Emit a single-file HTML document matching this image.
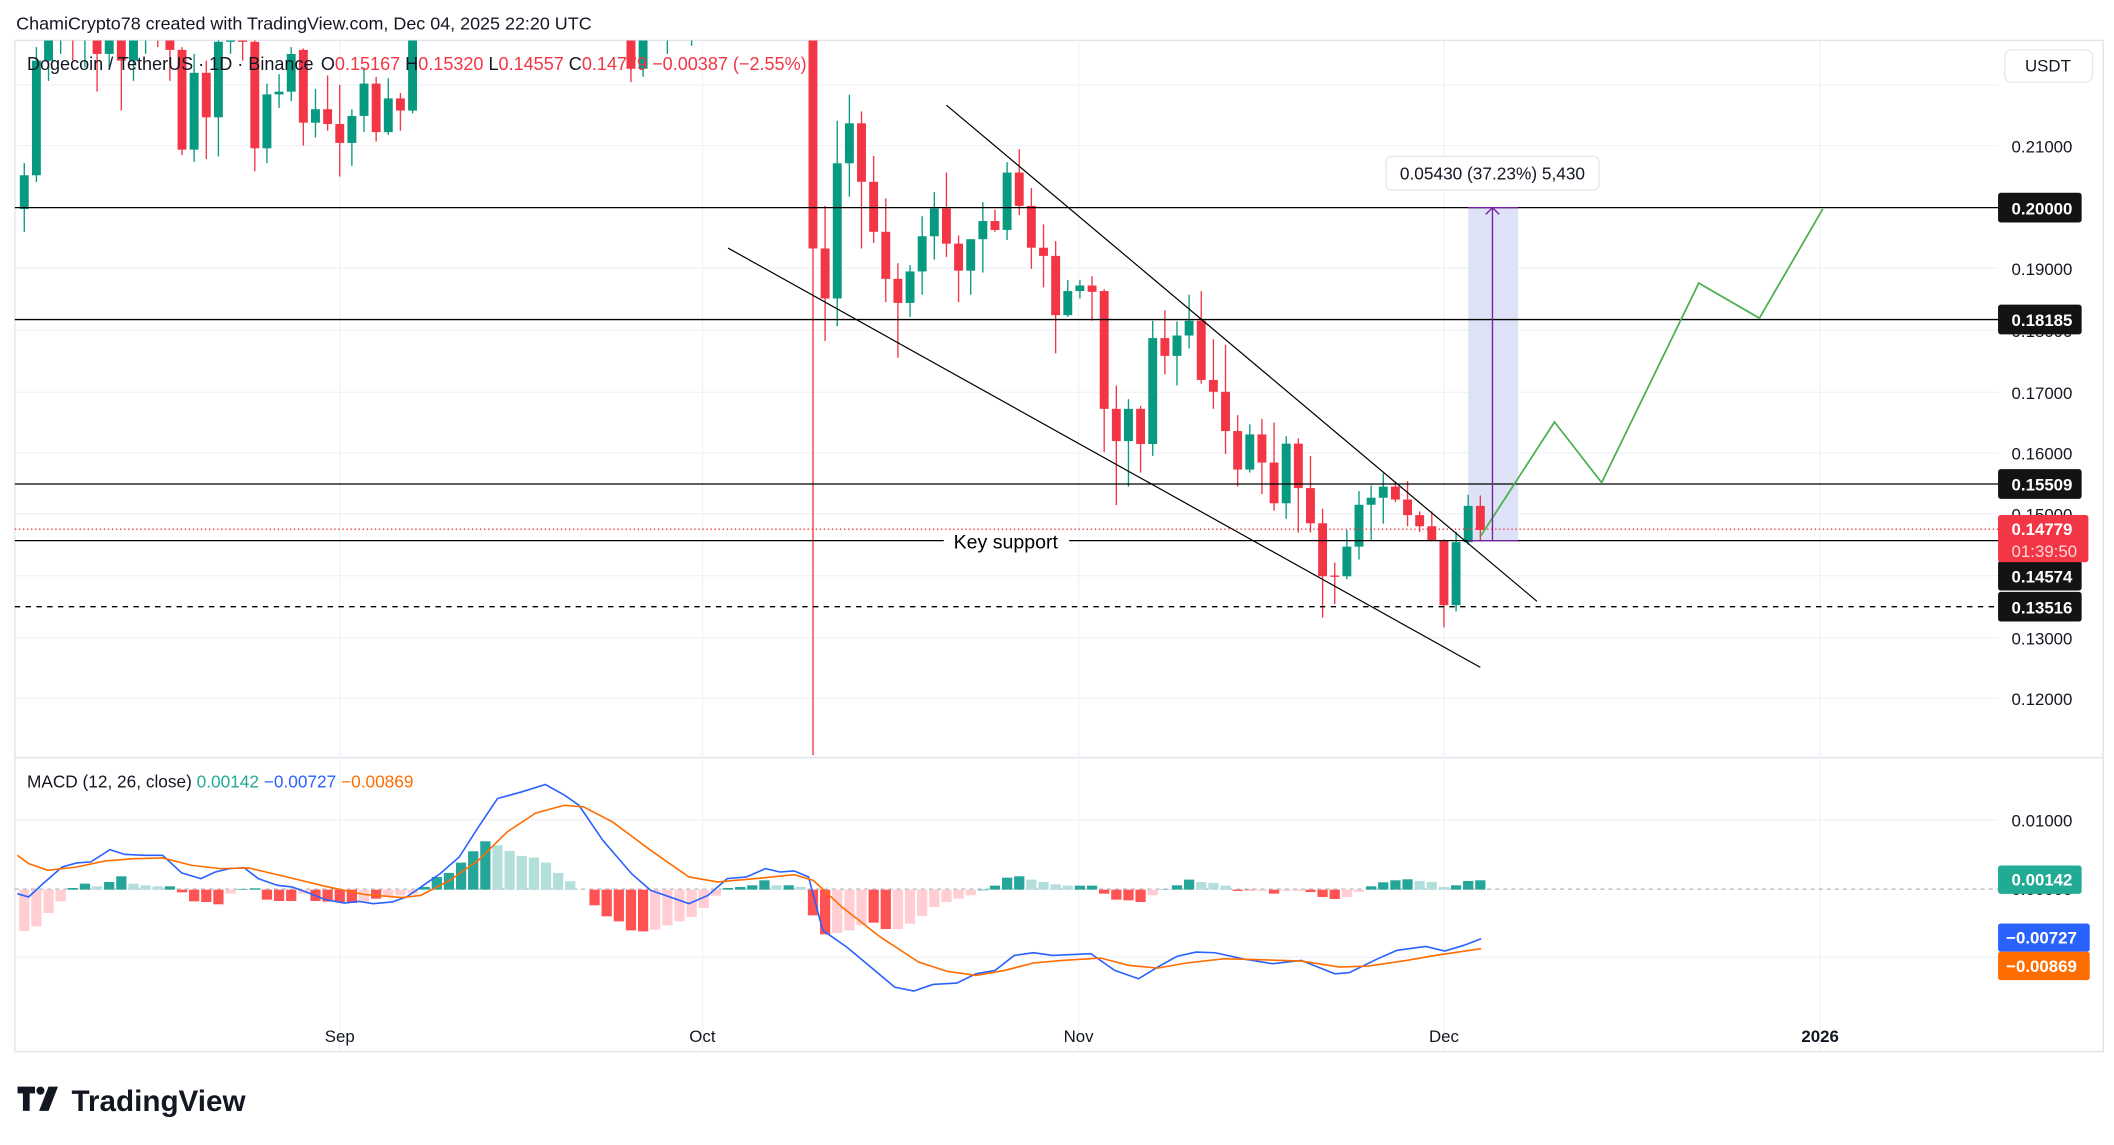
<!DOCTYPE html>
<html><head><meta charset="utf-8">
<style>
html,body{margin:0;padding:0;background:#fff;}
svg{display:block;}
text{font-family:"Liberation Sans","DejaVu Sans",sans-serif;}
</style></head>
<body>
<svg id="s" width="2114" height="1145" viewBox="0 0 1568 849.3" preserveAspectRatio="none" xmlns="http://www.w3.org/2000/svg">
<rect width="1568" height="850" fill="#fff"/>
<text x="12" y="22" font-size="13.3" fill="#131722">ChamiCrypto78 created with TradingView.com, Dec 04, 2025 22:20 UTC</text>
<rect x="11" y="30" width="1549" height="750" fill="none" stroke="#e0e3eb" stroke-width="1"/>
<line x1="11" y1="562" x2="1560" y2="562" stroke="#e0e3eb"/>
<g id="grid" stroke="#f0f3fa" stroke-width="1">
<line x1="11" x2="1482" y1="63" y2="63"/><line x1="11" x2="1482" y1="108" y2="108"/><line x1="11" x2="1482" y1="199" y2="199"/><line x1="11" x2="1482" y1="245" y2="245"/><line x1="11" x2="1482" y1="291" y2="291"/><line x1="11" x2="1482" y1="336" y2="336"/><line x1="11" x2="1482" y1="381" y2="381"/><line x1="11" x2="1482" y1="427" y2="427"/><line x1="11" x2="1482" y1="473" y2="473"/><line x1="11" x2="1482" y1="518" y2="518"/>
<line x1="11" x2="1482" y1="608" y2="608"/><line x1="11" x2="1482" y1="710" y2="710"/>
<line x1="252" x2="252" y1="30" y2="780"/><line x1="521" x2="521" y1="30" y2="780"/><line x1="800" x2="800" y1="30" y2="780"/><line x1="1071" x2="1071" y1="30" y2="780"/><line x1="1350" x2="1350" y1="30" y2="780"/>
</g>
<defs><clipPath id="pc"><rect x="11" y="30" width="1471" height="532"/></clipPath>
<clipPath id="mc"><rect x="11" y="563" width="1471" height="217"/></clipPath></defs>
<rect x="1089" y="154" width="37" height="247" fill="#dde2f6"/>
<g id="candles" clip-path="url(#pc)"></g>
<line x1="11" x2="1483" y1="154" y2="154" stroke="#000" stroke-width="1"/>
<line x1="11" x2="1483" y1="237" y2="237" stroke="#000" stroke-width="1"/>
<line x1="11" x2="1483" y1="359" y2="359" stroke="#000" stroke-width="1"/>
<line x1="11" x2="700" y1="401" y2="401" stroke="#000" stroke-width="1"/>
<line x1="793" x2="1483" y1="401" y2="401" stroke="#000" stroke-width="1"/>
<text x="746" y="407" font-size="14.5" text-anchor="middle" fill="#000">Key support</text>
<line x1="11" x2="1483" y1="450" y2="450" stroke="#000" stroke-width="1" stroke-dasharray="4,4"/>
<line x1="11" x2="1483" y1="392.5" y2="392.5" stroke="#f23645" stroke-width="1" stroke-dasharray="1,2"/>
<line x1="702" y1="78" x2="1140" y2="446" stroke="#000" stroke-width="0.9"/>
<line x1="540" y1="184" x2="1098" y2="495" stroke="#000" stroke-width="0.9"/>
<polyline points="1098,398 1153,313 1188,358 1260,210 1305,236 1352,155" fill="none" stroke="#4caf50" stroke-width="1.3"/>
<line x1="1089" x2="1126" y1="154" y2="154" stroke="#7b1fa2" stroke-width="1"/>
<line x1="1089" x2="1126" y1="401" y2="401" stroke="#7b1fa2" stroke-width="1"/>
<line x1="1107" x2="1107" y1="401" y2="154" stroke="#7b1fa2" stroke-width="1"/>
<polyline points="1102,159 1107,154 1112,159" fill="none" stroke="#7b1fa2"/>
<rect x="1028" y="116" width="158" height="25" rx="4" fill="#fff" stroke="#e6e8ee"/>
<text x="1107" y="133" font-size="12.8" text-anchor="middle" fill="#131722">0.05430 (37.23%) 5,430</text>
<g font-size="13.4">
<text x="20" y="52" fill="#131722">Dogecoin / TetherUS · 1D · Binance</text>
<text x="238" y="52" fill="#131722">O<tspan fill="#f23645">0.15167</tspan>  H<tspan fill="#f23645">0.15320</tspan>  L<tspan fill="#f23645">0.14557</tspan>  C<tspan fill="#f23645">0.14779</tspan>  <tspan fill="#f23645">−0.00387 (−2.55%)</tspan></text>
</g>
<rect x="1487" y="37" width="65" height="24" rx="5" fill="#fff" stroke="#e6e8ee"/>
<text x="1519" y="53" font-size="12.5" text-anchor="middle" fill="#131722">USDT</text>
<g font-size="12.5" fill="#131722">
<text x="1492" y="113">0.21000</text><text x="1492" y="204">0.19000</text><text x="1492" y="250">0.18000</text><text x="1492" y="296">0.17000</text><text x="1492" y="341">0.16000</text><text x="1492" y="386">0.15000</text><text x="1492" y="478">0.13000</text><text x="1492" y="523">0.12000</text>
<text x="1492" y="613">0.01000</text><text x="1492" y="664">0.00000</text>
</g>
<g font-size="12.5" font-weight="bold" fill="#fff">
<rect x="1482" y="143" width="62" height="22" rx="2" fill="#131313"/><text x="1492" y="159">0.20000</text>
<rect x="1482" y="226" width="62" height="22" rx="2" fill="#131313"/><text x="1492" y="242">0.18185</text>
<rect x="1482" y="348" width="62" height="22" rx="2" fill="#131313"/><text x="1492" y="364">0.15509</text>
<rect x="1482" y="416" width="62" height="22" rx="2" fill="#131313"/><text x="1492" y="432">0.14574</text>
<rect x="1482" y="439" width="62" height="22" rx="2" fill="#131313"/><text x="1492" y="455">0.13516</text>
<rect x="1482" y="382" width="67" height="35" rx="2" fill="#f23645"/><text x="1492" y="397">0.14779</text><text x="1492" y="413" font-weight="normal" fill="#ffd5d8">01:39:50</text>
<rect x="1482" y="642" width="62" height="21" rx="2" fill="#22ab94"/><text x="1492" y="657">0.00142</text>
<rect x="1482" y="685" width="68" height="21" rx="2" fill="#2962ff"/><text x="1488" y="700">−0.00727</text>
<rect x="1482" y="706" width="68" height="21" rx="2" fill="#ff6d00"/><text x="1488" y="721">−0.00869</text>
</g>
<line x1="11" x2="1482" y1="659.5" y2="659.5" stroke="#b2b5be" stroke-dasharray="3,3"/>
<g id="macd" clip-path="url(#mc)"></g>
<text x="20" y="584" font-size="12.8" fill="#131722">MACD (12, 26, close) <tspan fill="#22ab94">0.00142</tspan> <tspan fill="#2962ff">−0.00727</tspan> <tspan fill="#ff6d00">−0.00869</tspan></text>
<g font-size="12.5" fill="#131722" text-anchor="middle">
<text x="252" y="773">Sep</text><text x="521" y="773">Oct</text><text x="800" y="773">Nov</text><text x="1071" y="773">Dec</text><text x="1350" y="773" font-weight="bold">2026</text>
</g>
<path d="M13 806h13v5h-4v13h-5v-13h-4z" fill="#131722"/>
<circle cx="30" cy="809" r="3" fill="#131722"/>
<path d="M36 806h7l-7 18h-7z" fill="#131722"/>
<text x="53" y="824" font-size="22" font-weight="bold" fill="#131722">TradingView</text>
</svg>
<script>
var NS="http://www.w3.org/2000/svg",G="#089981",R="#f23645";
function el(p,t,a){var e=document.createElementNS(NS,t);for(var k in a)e.setAttribute(k,a[k]);p.appendChild(e);return e;}
var cg=document.getElementById("candles");
function candle(x,o,c,h,l){var col=c<=o?G:R;var hi=Math.min(h,o,c),lo=Math.max(l,o,c);
el(cg,"line",{x1:x,x2:x,y1:hi,y2:lo,stroke:col,"stroke-width":1});
el(cg,"rect",{x:x-3.3,y:Math.min(o,c),width:6.6,height:Math.max(1,Math.abs(o-c)),fill:col});}
var s1=[[155,130,121,172],[130,45,35,135],[45,25,10,60],[25,10,0,40],[10,30,0,45],[30,20,10,50],[20,40,10,68],[40,28,15,50],[28,45,10,82],[45,25,10,60],[25,15,5,40],[15,20,5,35],[20,37,5,60],[37,111,35,115],[111,54,40,120],[54,87,45,118],[87,31,20,116],[31,15,5,40],[15,31,5,45],[31,110,25,127],[110,70,62,121],[70,68,55,80],[68,40,35,75],[37,91,36,108],[91,81,66,102],[81,92,56,97],[92,106,63,131],[106,86,81,123],[86,62,50,98],[62,98,57,105],[98,73,58,100],[73,82,69,97],[82,10,0,84]];
for(var i=0;i<s1.length;i++){var d=s1[i];candle(252+9*(i-26),d[0],d[1],d[2],d[3]);}
var mid={24:[10,51,0,61],25:[51,20,10,57],26:[20,5,0,28],27:[5,-5,-10,40],29:[-5,-10,-20,34]};
for(var d2=7;d2<=38;d2++){var v=mid[d2]||[-20+(d2%3)*5,-10-(d2%4)*4,-40,-5+(d2%5)*4];candle(252+9*d2,v[0],v[1],v[2],v[3]);}
function Z(v){return 59.3+v/3.64;}
var s2=[[-143,455,-200,1823],[455,590,340,705],[590,225,110,665],[225,117,40,315],[117,275,85,455],[275,410,205,440],[410,537,320,600],[537,602,495,750],[602,517,500,640],[517,422,368,580],[422,347,303,485],[347,442,250,478],[442,515,420,600],[515,430,500,580],[430,381,330,520],[381,405,350,410],[405,250,222,432],[250,340,187,365],[340,453,292,510],[453,475,390,560],[475,635,435,738],[635,570,540,640],[570,555,540,590],[555,572,530,650],[570,888,565,1005],[888,975,825,1148],[975,888,862,1098],[888,983,880,1060],[983,697,650,1015],[697,745,622,795],[745,690,652,825],[690,650,580,725],[650,810,570,820],[810,842,700,888],[842,948,715,1010],[948,1052,905,1098],[1052,957,930,1060],[957,1033,915,1118],[1033,1143,925,1163],[1143,982,962,1185],[982,1102,968,1222],[1102,1197,1015,1222],[1197,1340,1158,1452],[1338,1340,1303,1415],[1340,1260,1215,1348],[1260,1147,1110,1295],[1147,1128,1095,1245],[1128,1098,1062,1198],[1098,1133,1085,1140],[1133,1175,1083,1205],[1175,1205,1165,1220],[1205,1245,1165,1245],[1245,1418,1240,1478],[1418,1248,1220,1435],[1248,1150,1120,1255],[1150,1215,1122,1245]];
for(var j=0;j<s2.length;j++){var q=s2[j];candle(603+9*j,Z(q[0]),Z(q[1]),Z(q[2]),Z(q[3]));}
var mg=document.getElementById("macd");
function MX(z){return z*0.7097;} function MY(z){return 549+z/4.04;}
var H=[[572,"lr"],[558,"lr"],[518,"lr"],[483,"lr"],[443,"dg"],[430,"dg"],[438,"lg"],[425,"dg"],[408,"dg"],[430,"lg"],[435,"lg"],[438,"lg"],[438,"dg"],[456,"dr"],[483,"dr"],[485,"dr"],[492,"dr"],[460,"lr"],[446,"dg"],[444,"dg"],[478,"dr"],[482,"dr"],[482,"dr"],[460,"lr"],[482,"dr"],[484,"dr"],[485,"dr"],[488,"dr"],[485,"lr"],[475,"dr"],[470,"lr"],[465,"lr"],[462,"lr"],[440,"dg"],[410,"dg"],[398,"dg"],[367,"dg"],[333,"dg"],[303,"dg"],[315,"lg"],[332,"lg"],[347,"lg"],[352,"lg"],[367,"lg"],[398,"lg"],[423,"lg"],[448,"lg"],[495,"dr"],[528,"dr"],[543,"dr"],[570,"dr"],[573,"dr"],[568,"lr"],[555,"lr"],[543,"lr"],[530,"lr"],[503,"lr"],[466,"lr"],[443,"dg"],[440,"dg"],[435,"dg"],[420,"dg"],[435,"lg"],[435,"dg"],[440,"lg"],[525,"dr"],[582,"dr"],[578,"lr"],[570,"lr"],[555,"lr"],[547,"dr"],[566,"dr"],[566,"lr"],[550,"lr"],[527,"lr"],[500,"lr"],[485,"lr"],[475,"lr"],[465,"lr"],[450,"dg"],[436,"dg"],[412,"dg"],[408,"dg"],[418,"lg"],[425,"lg"],[432,"lg"],[436,"lg"],[436,"dg"],[436,"dg"],[460,"dr"],[478,"dr"],[480,"dr"],[485,"dr"],[465,"lr"],[447,"dg"],[435,"dg"],[418,"dg"],[425,"lg"],[428,"lg"],[436,"lg"],[452,"dr"],[450,"dr"],[452,"lr"],[460,"dr"],[452,"lr"],[452,"lr"],[455,"dr"],[470,"dr"],[476,"dr"],[470,"lr"],[455,"lr"],[438,"dg"],[426,"dg"],[420,"dg"],[417,"dg"],[422,"lg"],[425,"lg"],[440,"lg"],[435,"dg"],[422,"dg"],[420,"dg"]];
var C={dg:"#26a69a",lg:"#b2dfdb",dr:"#ff5252",lr:"#ffcdd2"};
var zy0=MY(448);
for(var k=0;k<H.length;k++){var x=252+9*(k-26),y=MY(H[k][0]);el(mg,"rect",{x:x-3.8,y:Math.min(y,zy0),width:7.6,height:Math.abs(y-zy0),fill:C[H[k][1]]});}
function pl(a,col){var p=[];for(var i=0;i<a.length;i+=2)p.push(MX(a[i]).toFixed(1)+","+MY(a[i+1]).toFixed(1));el(mg,"polyline",{points:p.join(" "),fill:"none",stroke:col,"stroke-width":1.2});}
pl([18,460,30,470,45,430,65,380,80,368,95,365,115,328,130,342,150,345,170,345,190,398,210,415,225,395,240,385,255,382,270,415,290,435,305,440,320,455,340,478,360,488,375,483,390,490,410,485,425,470,440,440,460,400,480,350,500,260,520,175,545,155,570,133,590,165,605,195,630,300,660,400,680,450,700,470,720,490,740,465,760,415,780,410,800,385,815,395,830,392,845,410,860,570,885,620,910,680,935,740,955,752,975,732,1000,728,1020,700,1040,690,1060,645,1080,637,1100,645,1140,640,1165,690,1190,715,1210,680,1230,648,1250,635,1270,637,1300,656,1330,670,1360,660,1395,700,1410,697,1440,655,1460,630,1490,618,1510,632,1530,615,1548,595],"#2962ff");
pl([18,345,30,370,50,390,80,380,110,362,140,355,170,353,200,375,230,385,260,383,300,410,340,438,380,462,420,472,440,465,470,420,500,360,530,275,560,218,590,195,610,200,640,245,680,330,720,410,750,425,790,415,830,403,850,420,880,500,920,590,960,665,990,693,1020,705,1050,690,1080,668,1110,660,1150,653,1180,675,1210,683,1240,668,1280,655,1320,658,1360,662,1400,680,1430,677,1470,660,1500,645,1548,625],"#ff6d00");
</script>
</body></html>
